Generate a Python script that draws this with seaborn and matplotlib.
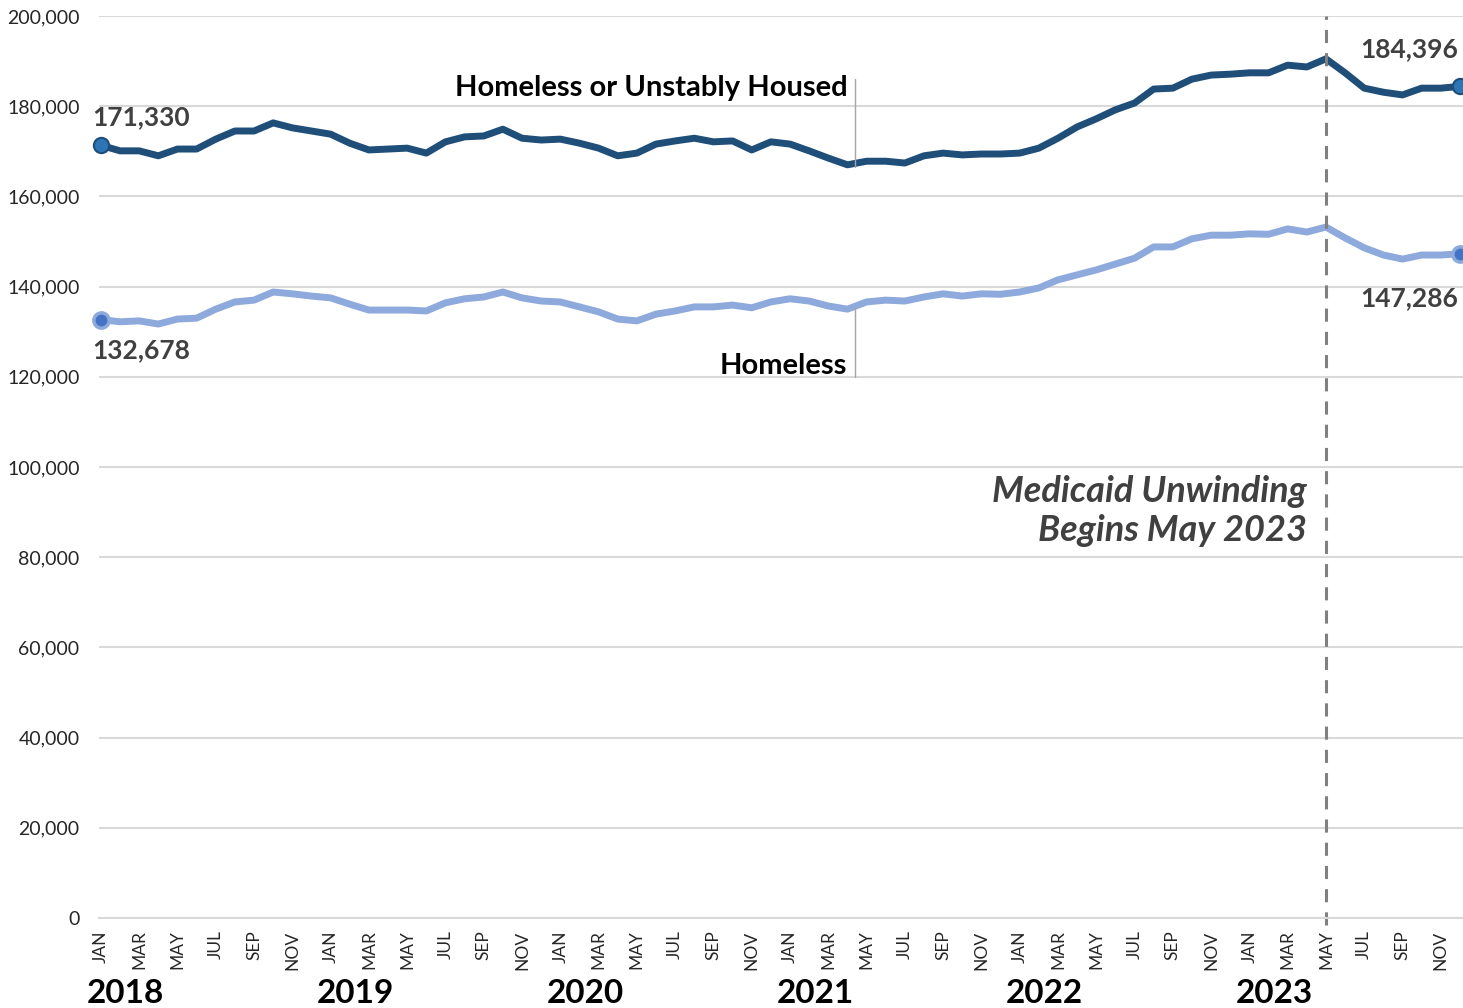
import pandas as pd
import seaborn as sns
import matplotlib.pyplot as plt
import matplotlib.transforms as mtransforms
from matplotlib.ticker import FuncFormatter

# Monthly counts, Jan 2018 - Dec 2023
years = [2018, 2019, 2020, 2021, 2022, 2023]
month_labels = ['JAN', 'MAR', 'MAY', 'JUL', 'SEP', 'NOV']

unstable = [
    171330, 170100, 170100, 169000, 170500, 170500, 172700, 174500, 174500, 176300, 175200, 174500,
    173800, 171800, 170300, 170500, 170700, 169600, 172100, 173200, 173400, 174900, 172900, 172500,
    172700, 171800, 170700, 169000, 169600, 171600, 172300, 172900, 172100, 172300, 170300, 172100,
    171600, 170100, 168500, 167000, 167800, 167800, 167400, 169000, 169600, 169200, 169400, 169400,
    169600, 170700, 172900, 175400, 177200, 179200, 180700, 183800, 184000, 186000, 186900, 187100,
    187400, 187400, 189100, 188700, 190500, 187400, 184000, 183100, 182500, 184000, 184000, 184396,
]
homeless = [
    132678, 132200, 132400, 131700, 132800, 133000, 135000, 136600, 137000, 138800, 138400, 137900,
    137500, 136100, 134800, 134800, 134800, 134600, 136400, 137300, 137700, 138800, 137500, 136800,
    136600, 135500, 134400, 132800, 132400, 133900, 134600, 135500, 135500, 135900, 135300, 136600,
    137300, 136800, 135700, 135000, 136600, 137000, 136800, 137700, 138400, 137900, 138400, 138300,
    138800, 139700, 141500, 142600, 143700, 145000, 146300, 148800, 148800, 150600, 151400, 151400,
    151700, 151600, 152800, 152100, 153200, 150800, 148600, 147000, 146100, 147000, 147000, 147286,
]

dark_blue = '#1F4E79'
light_blue = '#8EA9DB'
text_gray = '#404040'

df = pd.DataFrame({
    'month': list(range(len(unstable))) * 2,
    'count': unstable + homeless,
    'series': ['Homeless or Unstably Housed'] * len(unstable) + ['Homeless'] * len(homeless),
})

sns.set_style('white')
plt.rcParams['font.family'] = ['Lato', 'DejaVu Sans']

fig = plt.figure(figsize=(14.63, 10.08), dpi=100)
ax = fig.add_axes([99 / 1463, 90 / 1008, 1 - 99 / 1463, 902 / 1008])

sns.lineplot(data=df, x='month', y='count', hue='series',
             palette={'Homeless or Unstably Housed': dark_blue, 'Homeless': light_blue},
             linewidth=5, legend=False, ax=ax)

# end point markers
last = len(unstable) - 1
ax.plot([0, last], [unstable[0], unstable[last]], 'o', ms=11, color='#2E75B6',
        mec=dark_blue, mew=1.5, clip_on=False, zorder=5)
ax.plot([0, last], [homeless[0], homeless[last]], 'o', ms=11, color='#4472C4',
        mec=light_blue, mew=2.5, clip_on=False, zorder=5)

ax.set_xlim(-0.1, 71.16)
ax.set_ylim(0, 200000)
ax.set_yticks(range(0, 200001, 20000))
ax.yaxis.set_major_formatter(FuncFormatter(lambda v, p: f'{int(v):,}'))
ax.grid(axis='y', color='#D9D9D9', linewidth=1.5)
ax.set_axisbelow(True)
for s in ['left', 'right', 'top']:
    ax.spines[s].set_visible(False)
ax.spines['bottom'].set_color('#D9D9D9')
ax.spines['bottom'].set_linewidth(1.5)

ax.set_xticks(range(0, 72, 2))
ax.set_xticklabels(month_labels * len(years), rotation=90, fontsize=12.5)
ax.tick_params(axis='x', length=0, pad=9)
ax.tick_params(axis='y', length=0, pad=14, labelsize=14)
ax.set_xlabel('')
ax.set_ylabel('')

trans = mtransforms.blended_transform_factory(ax.transData, fig.transFigure)
for i, yr in enumerate(years):
    ax.text(i * 12 + 1.3, 0.014, str(yr), transform=trans, ha='center', va='center',
            fontsize=24, fontweight='bold', color='black')

# value labels
ax.text(-0.45, 177600, f'{unstable[0]:,}', fontsize=19, fontweight='bold', color=text_gray,
        ha='left', va='center')
ax.text(-0.45, 126000, f'{homeless[0]:,}', fontsize=19, fontweight='bold', color=text_gray,
        ha='left', va='center')
ax.text(70.9, 192700, f'{unstable[last]:,}', fontsize=19, fontweight='bold', color=text_gray,
        ha='right', va='center')
ax.text(70.9, 137500, f'{homeless[last]:,}', fontsize=19, fontweight='bold', color=text_gray,
        ha='right', va='center')

# series labels with leader lines
ax.plot([39.4, 39.4], [166500, 186000], color='#A6A6A6', lw=1)
ax.text(39.0, 184000, 'Homeless or Unstably Housed', fontsize=21, fontweight='bold',
        color='black', ha='right', va='center')
ax.plot([39.4, 39.4], [120000, 135500], color='#A6A6A6', lw=1)
ax.text(39.0, 122400, 'Homeless', fontsize=21, fontweight='bold', color='black',
        ha='right', va='center')

# Medicaid unwinding marker
ax.axvline(64, color='#808080', lw=2.2, ls=(0, (4.3, 3.3)), ymin=-0.008, clip_on=False)
ax.text(63.0, 90200, 'Medicaid Unwinding\nBegins May 2023', fontsize=26, fontweight='bold',
        fontstyle='italic', color=text_gray, ha='right', va='center', linespacing=1.2)

fig.savefig('out.png', dpi=100)
